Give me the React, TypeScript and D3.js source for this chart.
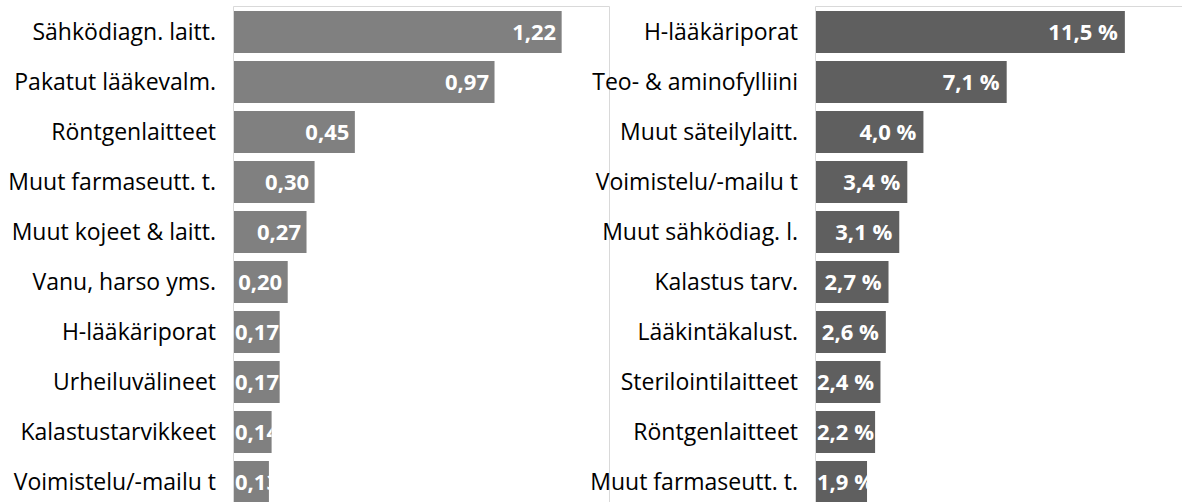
import React, { useEffect, useRef } from "react";
import * as d3 from "d3";

const leftCategories = [
  "Sähködiagn. laitt.",
  "Pakatut lääkevalm.",
  "Röntgenlaitteet",
  "Muut farmaseutt. t.",
  "Muut kojeet & laitt.",
  "Vanu, harso yms.",
  "H-lääkäriporat",
  "Urheiluvälineet",
  "Kalastustarvikkeet",
  "Voimistelu/-mailu t",
];
const leftValues = [1.22, 0.97, 0.45, 0.3, 0.27, 0.2, 0.17, 0.17, 0.14, 0.13];

const rightCategories = [
  "H-lääkäriporat",
  "Teo- & aminofylliini",
  "Muut säteilylaitt.",
  "Voimistelu/-mailu t",
  "Muut sähködiag. l.",
  "Kalastus tarv.",
  "Lääkintäkalust.",
  "Sterilointilaitteet",
  "Röntgenlaitteet",
  "Muut farmaseutt. t.",
];
const rightValues = [11.5, 7.1, 4.0, 3.4, 3.1, 2.7, 2.6, 2.4, 2.2, 1.9];

const W = 1182;
const H = 502;

export default function App() {
  const ref = useRef<SVGSVGElement | null>(null);

  useEffect(() => {
    const svg = d3.select(ref.current);
    svg.selectAll("*").remove();
    const defs = svg.append("defs");

    const panels = [
      {
        id: "l",
        cats: leftCategories,
        vals: leftValues,
        x0: 234,
        max: 1.4,
        color: "#808080",
        pad: 5.5,
        fmt: (v: number) => d3.format(".2f")(v).replace(".", ","),
      },
      {
        id: "r",
        cats: rightCategories,
        vals: rightValues,
        x0: 816,
        max: 14,
        color: "#5f5f5f",
        pad: 7,
        fmt: (v: number) => d3.format(".1f")(v).replace(".", ",") + " %",
      },
    ];

    const width = 376;
    const y = d3
      .scaleBand<number>()
      .domain(d3.range(10))
      .range([7, 507])
      .paddingInner(0.16)
      .paddingOuter(0.08);

    panels.forEach((p) => {
      const x = d3.scaleLinear().domain([0, p.max]).range([p.x0, p.x0 + width]);
      const g = svg.append("g");
      g.append("path")
        .attr("d", `M${p.x0 - 0.5},${H}V6.5H${p.x0 + width - 0.5}V${H}`)
        .attr("fill", "none")
        .attr("stroke", "#d9d9d9")
        .attr("stroke-width", 1);

      p.vals.forEach((v, i) => {
        const by = y(i)!;
        const bw = x(v) - x(0);
        const clipId = `clip-${p.id}-${i}`;
        defs
          .append("clipPath")
          .attr("id", clipId)
          .append("rect")
          .attr("x", x(0))
          .attr("y", by)
          .attr("width", bw)
          .attr("height", y.bandwidth());
        g.append("rect")
          .attr("x", x(0))
          .attr("y", by)
          .attr("width", bw)
          .attr("height", y.bandwidth())
          .attr("fill", p.color);
        const t = g
          .append("text")
          .attr("clip-path", `url(#${clipId})`)
          .attr("x", x(v) - p.pad)
          .attr("y", by + y.bandwidth() / 2)
          .attr("dy", "0.36em")
          .attr("text-anchor", "end")
          .attr("fill", "#ffffff")
          .attr("font-family", "'Open Sans', sans-serif")
          .attr("font-weight", "bold")
          .attr("font-size", 22)
          .text(p.fmt(v));
        const tw = (t.node() as SVGTextElement).getComputedTextLength();
        if (x(v) - p.pad - tw < x(0) + 1) {
          t.attr("text-anchor", "start").attr("x", x(0) + 1);
        }
        g.append("text")
          .attr("x", x(0) - 18)
          .attr("y", by + y.bandwidth() / 2)
          .attr("dy", "0.35em")
          .attr("text-anchor", "end")
          .attr("fill", "#000000")
          .attr("font-family", "'Open Sans', sans-serif")
          .attr("font-size", 23)
          .text(p.cats[i]);
      });
    });
  }, []);

  return (
    <svg
      ref={ref}
      width={W}
      height={H}
      style={{ position: "absolute", left: 0, top: 0, background: "#fff" }}
    />
  );
}
